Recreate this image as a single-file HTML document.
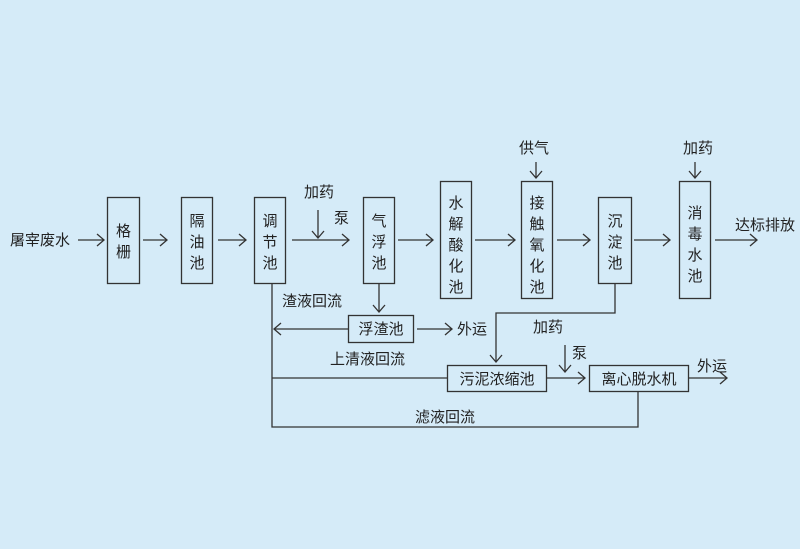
<!DOCTYPE html>
<html><head><meta charset="utf-8"><style>
html,body{margin:0;padding:0;background:#d5ebf8;}
svg{display:block;}
text{font-family:"Liberation Sans","Noto Sans CJK SC",sans-serif;font-size:15px;fill:#222;}
</style></head><body>
<svg width="800" height="549" viewBox="0 0 800 549" xmlns="http://www.w3.org/2000/svg">
<rect width="800" height="549" fill="#d5ebf8"/>
<g fill="none" stroke="#333" stroke-width="1.3">
<!-- boxes -->
<rect x="107.5" y="197.5" width="32" height="86"/>
<rect x="181.5" y="197.5" width="31" height="86"/>
<rect x="254.5" y="197.5" width="31" height="86"/>
<rect x="363.5" y="197.5" width="31" height="86"/>
<rect x="440.5" y="181.5" width="31" height="117"/>
<rect x="521.5" y="181.5" width="31" height="117"/>
<rect x="598.5" y="197.5" width="33" height="86"/>
<rect x="679.5" y="181.5" width="31" height="117"/>
<rect x="348.5" y="315.5" width="65" height="27"/>
<rect x="447.5" y="365.5" width="99" height="26"/>
<rect x="589.5" y="365.5" width="99" height="26"/>
<!-- lines -->
<path d="M78 240H104 M143 240H167 M218 240H246 M292 240H349 M398 240H433 M475 240H515 M557 240H590 M634 240H670 M715 240H757"/>
<path d="M318 210V238 M536 162V178 M695 162V178 M379 284V312"/>
<path d="M417 329H452 M348 329H274"/>
<path d="M272 284V427H638V392 M272 378H447"/>
<path d="M615 284V313H496V362"/>
<path d="M565 345V372 M546 378H585 M688 378H727"/>
<!-- arrowheads -->
<path d="M97 234L104 240L97 246 M160 234L167 240L160 246 M239 234L246 240L239 246 M342 234L349 240L342 246 M426 234L433 240L426 246 M508 234L515 240L508 246 M583 234L590 240L583 246 M663 234L670 240L663 246 M750 234L757 240L750 246"/>
<path d="M312 231L318 238L324 231 M530 171L536 178L542 171 M689 171L695 178L701 171 M373 305L379 312L385 305 M490 355L496 362L502 355 M559 365L565 372L571 365"/>
<path d="M445 323L452 329L445 335 M281 323L274 329L281 335 M578 372L585 378L578 384 M720 372L727 378L720 384"/>
</g>
<g>
<text x="10" y="245">屠宰废水</text>
<g text-anchor="middle">
<text x="123.5" y="236">格</text><text x="123.5" y="257">栅</text>
<text x="197" y="226">隔</text><text x="197" y="247">油</text><text x="197" y="268">池</text>
<text x="270" y="226">调</text><text x="270" y="247">节</text><text x="270" y="268">池</text>
<text x="379" y="226">气</text><text x="379" y="247">浮</text><text x="379" y="268">池</text>
<text x="456" y="208">水</text><text x="456" y="229">解</text><text x="456" y="250">酸</text><text x="456" y="271">化</text><text x="456" y="292">池</text>
<text x="537" y="208">接</text><text x="537" y="229">触</text><text x="537" y="250">氧</text><text x="537" y="271">化</text><text x="537" y="292">池</text>
<text x="615" y="226">沉</text><text x="615" y="247">淀</text><text x="615" y="268">池</text>
<text x="695" y="218">消</text><text x="695" y="239">毒</text><text x="695" y="260">水</text><text x="695" y="281">池</text>
<text x="381" y="334">浮渣池</text>
<text x="497" y="384">污泥浓缩池</text>
<text x="639" y="384">离心脱水机</text>
</g>
<text x="304" y="197">加药</text>
<text x="334" y="223">泵</text>
<text x="519" y="153">供气</text>
<text x="683" y="153">加药</text>
<text x="735" y="230">达标排放</text>
<text x="282" y="306">渣液回流</text>
<text x="457" y="334">外运</text>
<text x="330" y="364">上清液回流</text>
<text x="533" y="332">加药</text>
<text x="572" y="358">泵</text>
<text x="697" y="371">外运</text>
<text x="415" y="422">滤液回流</text>
</g>
</svg>
</body></html>
